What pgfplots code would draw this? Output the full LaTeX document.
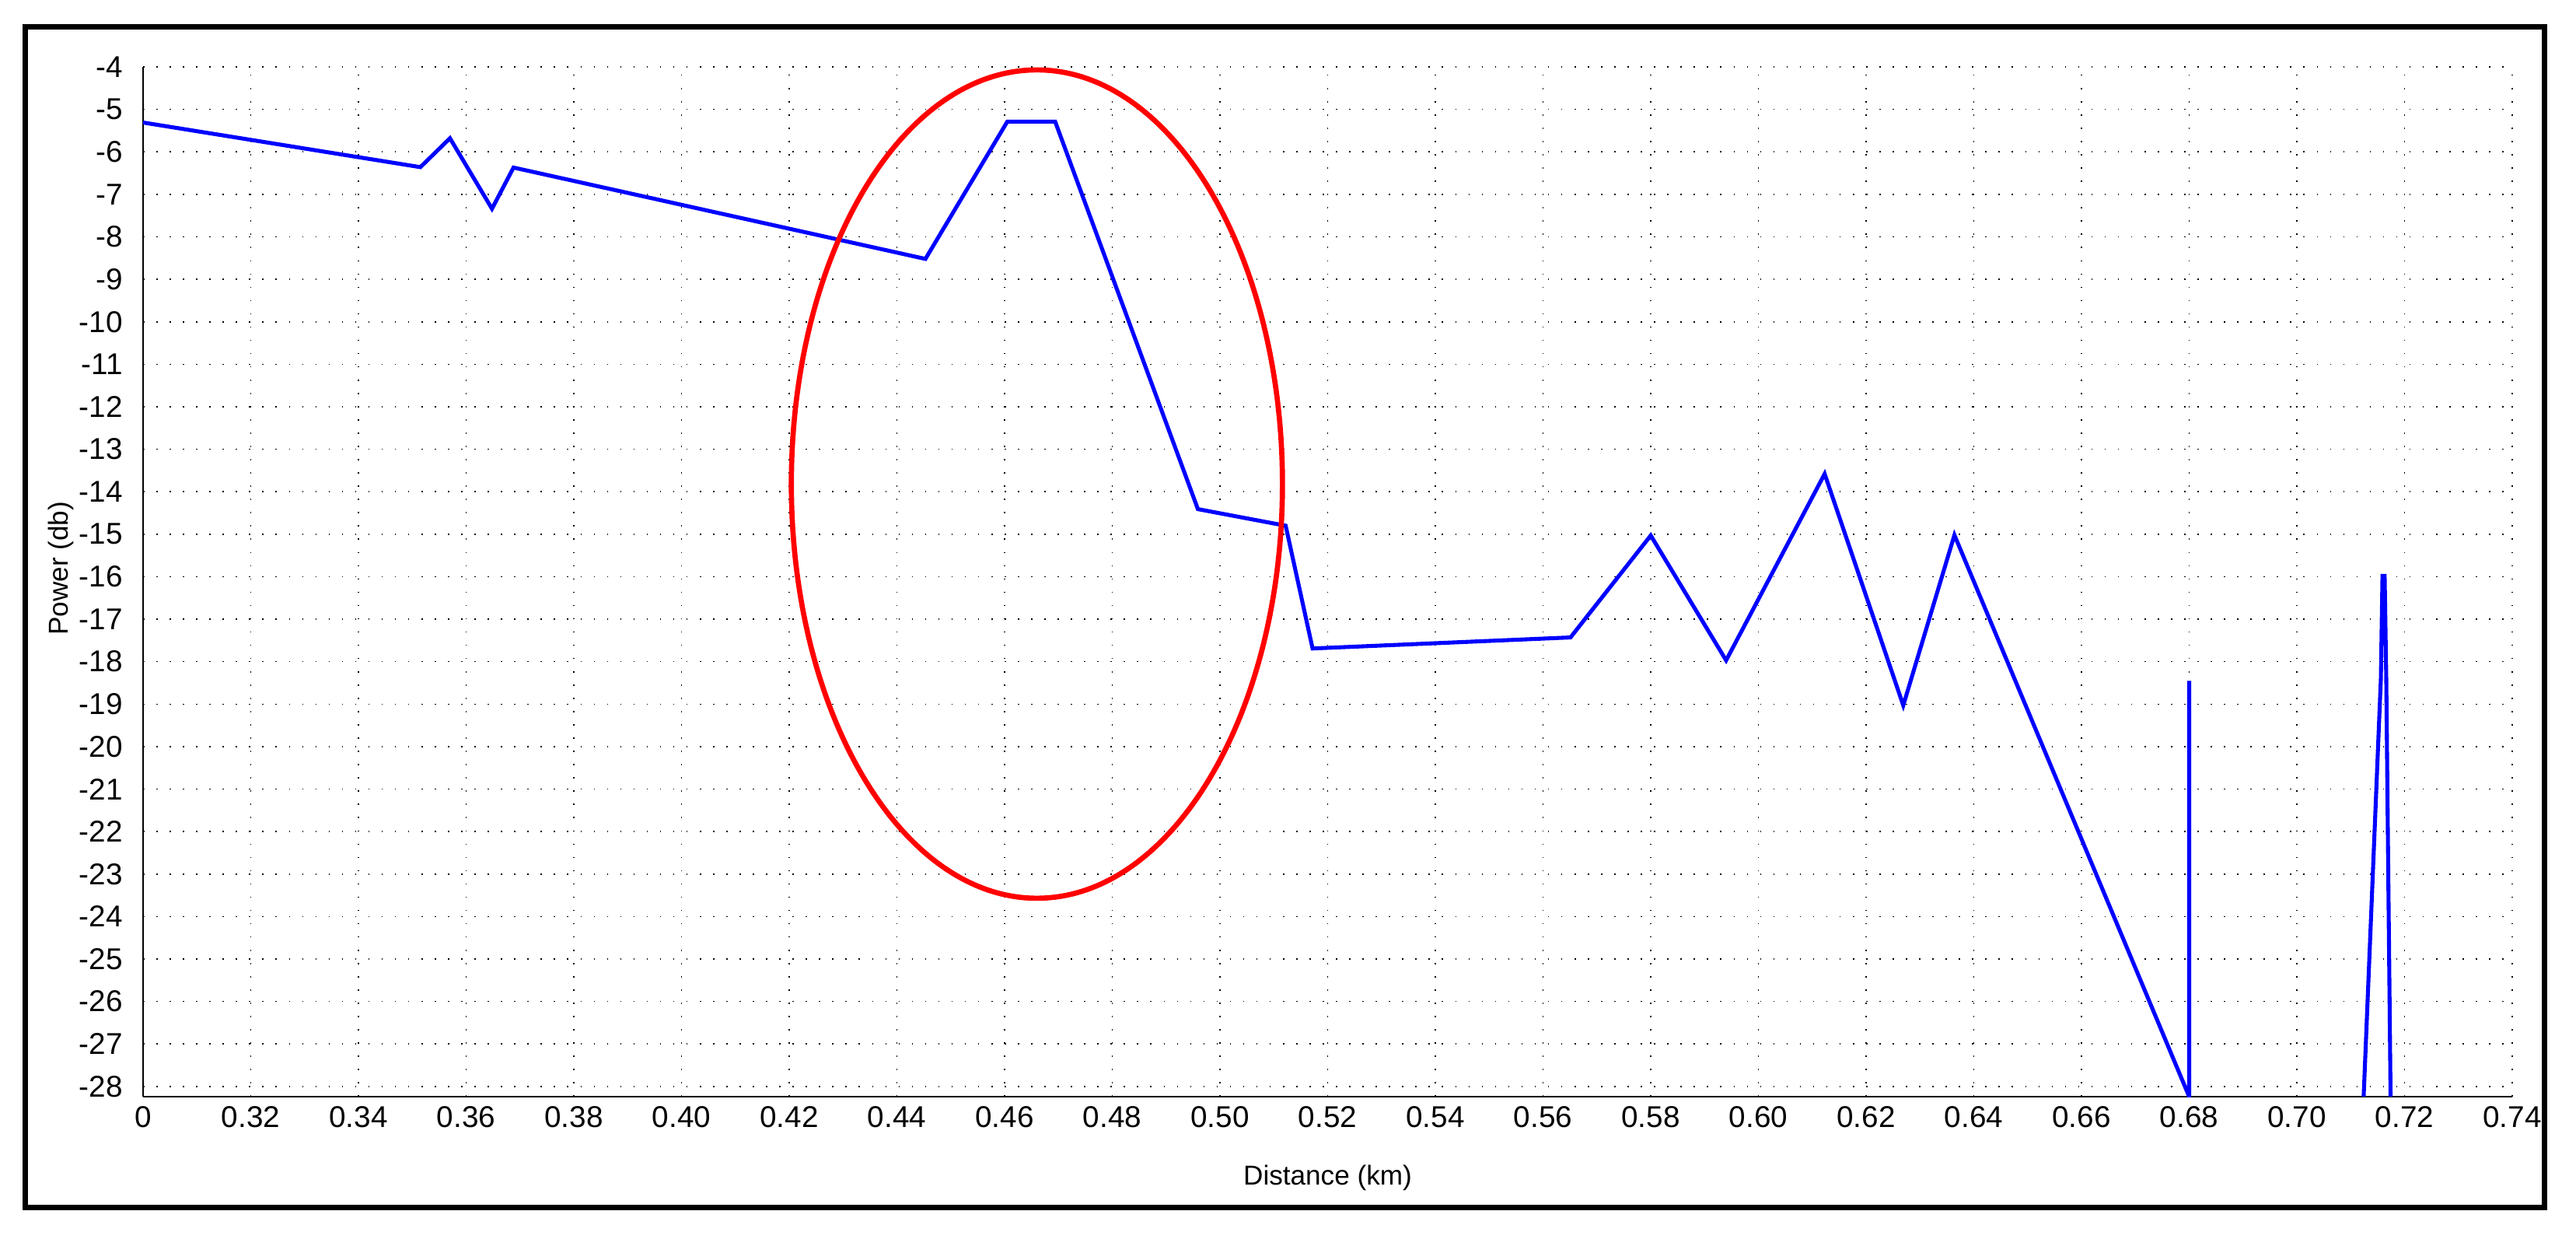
\documentclass[border=0pt]{standalone}
\usepackage{fontspec}
\setmainfont{Liberation Sans}
\usepackage{pgfplots}
\pgfplotsset{compat=1.18}
\definecolor{trace}{RGB}{0,0,255}
\definecolor{ring}{RGB}{255,0,0}

\begin{document}
\begin{tikzpicture}
% page = 33.13 x 16.01 cm, axis box south west at (0,0)
\useasboundingbox (-1.84,-1.91) rectangle (31.29,14.10);
\draw[line width=0.07cm] (-1.515,-1.425) rectangle (30.885,13.755);
\begin{axis}[
  at={(0,0)}, anchor=south west, scale only axis,
  width=30.47cm, height=13.24cm,
  xmin=0.30, xmax=0.74, ymin=-28.24, ymax=-4,
  xtick={0.30,0.32,0.34,0.36,0.38,0.40,0.42,0.44,0.46,0.48,0.50,0.52,
         0.54,0.56,0.58,0.60,0.62,0.64,0.66,0.68,0.70,0.72,0.74},
  xticklabels={0,0.32,0.34,0.36,0.38,0.40,0.42,0.44,0.46,0.48,0.50,0.52,
         0.54,0.56,0.58,0.60,0.62,0.64,0.66,0.68,0.70,0.72,0.74},
  ytick={-28,-27,...,-4},
  /pgf/number format/assume math mode=true,
  tick label style={font=\fontsize{11}{13}\selectfont},
  yticklabel style={xshift=-4pt},
  major tick length=0pt,
  axis x line*=bottom, axis y line*=left,
  axis line style={-, black, line width=0.57pt},
  grid=major,
  grid style={black, line width=0.45pt, dash pattern=on 0.45pt off 4.4pt},
  xlabel={Distance (km)}, ylabel={Power (db)},
  label style={font=\fontsize{11}{13}\selectfont},
  every axis x label/.style={at={(axis description cs:0.5,-0.079)}, anchor=center},
  every axis y label/.style={at={(axis description cs:-0.0345,0.513)}, anchor=center, rotate=90},
]
\addplot[trace, line width=1.45pt, line join=miter] coordinates {
  (0.3000,-5.31) (0.3515,-6.36) (0.3570,-5.68) (0.3648,-7.34) (0.3688,-6.37)
  (0.4453,-8.52) (0.4605,-5.29) (0.4694,-5.29) (0.4959,-14.41) (0.5122,-14.80)
  (0.5172,-17.69) (0.5651,-17.43) (0.5800,-15.03) (0.5940,-17.97) (0.6123,-13.58)
  (0.6269,-19.03) (0.6364,-15.02) (0.6800,-28.24) (0.6800,-18.45)
};
\addplot[trace, line width=1.45pt, line join=miter] coordinates {
  (0.7124,-28.24) (0.7156,-18.40) (0.7159,-15.98) (0.7163,-15.98)
  (0.7166,-18.40) (0.7174,-28.24)
};
\coordinate (ec) at (axis cs:0.466,-13.82);
\end{axis}
\draw[ring, line width=1.9pt] (ec) ellipse [x radius=3.158cm, y radius=5.325cm];
\end{tikzpicture}
\end{document}
